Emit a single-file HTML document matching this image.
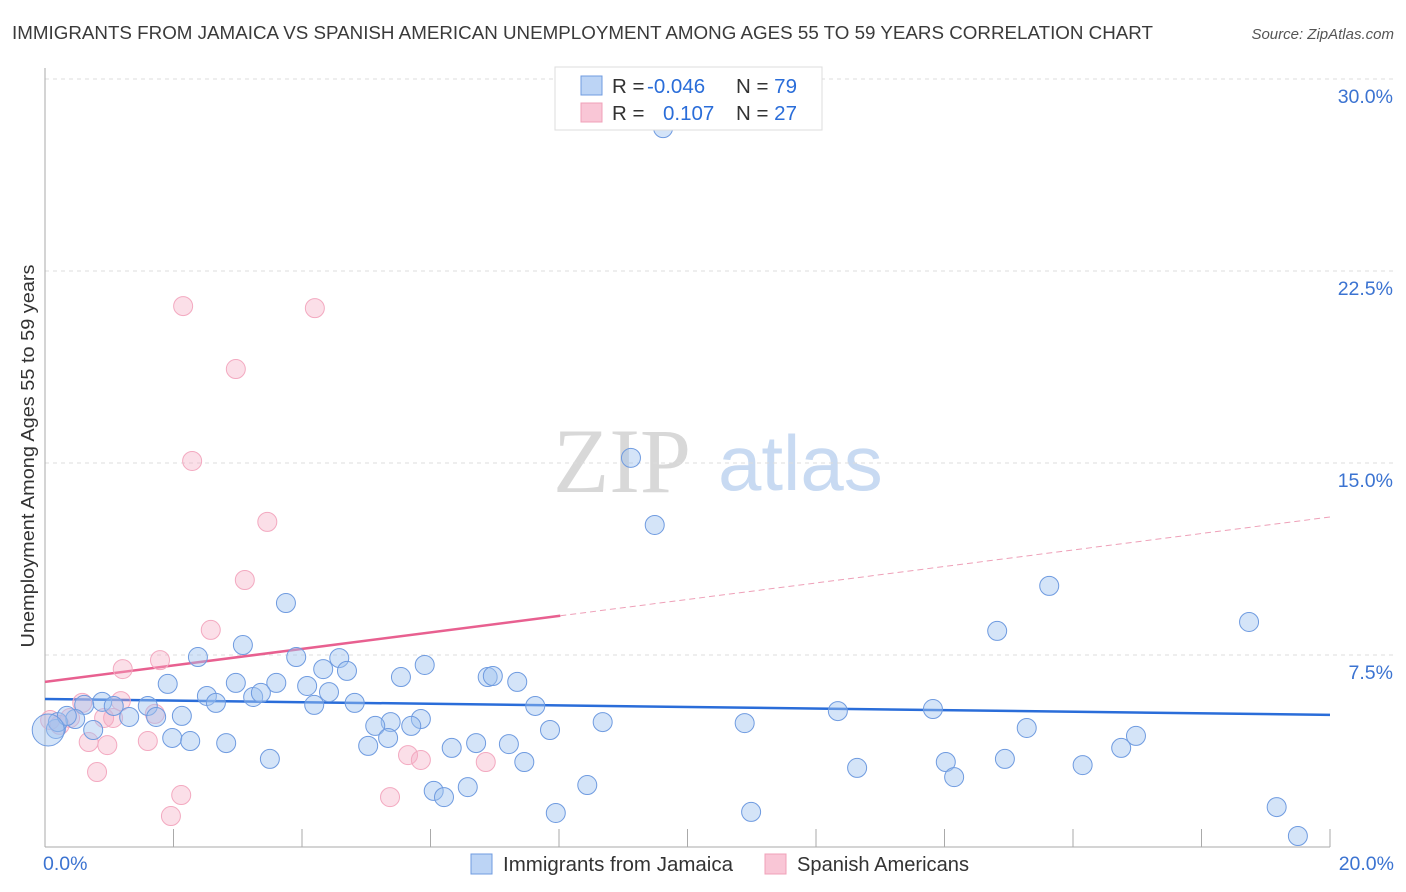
<!DOCTYPE html>
<html><head><meta charset="utf-8">
<style>
body{margin:0;background:#fff;font-family:"Liberation Sans",sans-serif;}
svg{display:block}
</style></head>
<body>
<svg width="1406" height="892" viewBox="0 0 1406 892">
<text x="12" y="39" font-size="18" textLength="1141" lengthAdjust="spacingAndGlyphs" fill="#3a3a3a">IMMIGRANTS FROM JAMAICA VS SPANISH AMERICAN UNEMPLOYMENT AMONG AGES 55 TO 59 YEARS CORRELATION CHART</text>
<text x="1394" y="39" font-size="15" fill="#555" text-anchor="end" font-style="italic">Source: ZipAtlas.com</text>
<g>
<text x="553" y="492" font-size="92" font-family="Liberation Serif,serif" fill="#d8d8d8">ZIP</text>
<text x="718" y="490" font-size="78" fill="#c8daf2">atlas</text>
</g>
<g id="grid"></g>
<g id="axes"></g>
<g id="trends"></g>
<g id="pts"></g>
<text x="34" y="456" font-size="18.5" textLength="383" lengthAdjust="spacingAndGlyphs" fill="#333" text-anchor="middle" transform="rotate(-90 34 456)">Unemployment Among Ages 55 to 59 years</text>
<g>
<rect x="555" y="67" width="267" height="63" fill="#fff" stroke="#ddd"/>
<rect x="581" y="76" width="21" height="19" fill="#bcd4f5" stroke="#6f9be0"/>
<rect x="581" y="103" width="21" height="19" fill="#f9c6d6" stroke="#f0a0b8"/>
<text x="612" y="93" font-size="20.5" fill="#333">R = <tspan fill="#2a6dd9" x="647">-0.046</tspan></text>
<text x="736" y="93" font-size="20.5" fill="#333">N = <tspan fill="#2a6dd9">79</tspan></text>
<text x="612" y="120" font-size="20.5" fill="#333">R = <tspan fill="#2a6dd9" x="663">0.107</tspan></text>
<text x="736" y="120" font-size="20.5" fill="#333">N = <tspan fill="#2a6dd9">27</tspan></text>
</g>
<g>
<rect x="471" y="854" width="21" height="20" fill="#bcd4f5" stroke="#6f9be0"/>
<text x="503" y="871" font-size="20" textLength="230" lengthAdjust="spacingAndGlyphs" fill="#333">Immigrants from Jamaica</text>
<rect x="765" y="854" width="21" height="20" fill="#f9c6d6" stroke="#f0a0b8"/>
<text x="797" y="871" font-size="20" textLength="172" lengthAdjust="spacingAndGlyphs" fill="#333">Spanish Americans</text>
</g>
</svg>
<script>
const yTicks=[7.5,15,22.5,30];
const yTickLabels=["7.5%","15.0%","22.5%","30.0%"];
const xTickLabels=["0.0%","20.0%"];
const blueX=[9.62,9.12,9.49,15.63,14.82,18.74,3.75,3.08,2.38,3.91,4.58,4.33,4.70,5.91,1.91,2.97,3.60,4.08,4.42,5.54,6.89,6.97,7.35,2.52,3.24,3.36,2.66,0.89,1.07,1.60,0.61,4.19,4.82,7.63,2.13,1.31,1.73,0.47,12.34,13.82,8.68,10.89,5.85,5.38,5.14,5.70,7.86,15.28,16.98,16.75,0.75,1.98,2.26,2.82,5.03,5.34,6.33,6.71,7.22,3.50,7.46,14.94,14.02,12.64,16.15,14.15,6.58,8.44,6.05,6.21,7.95,10.99,19.17,19.50,0.17,0.20,0.34,0.05];
const blueY=[28.08,15.20,12.58,10.20,8.44,8.79,9.53,7.89,7.42,7.42,7.38,6.95,6.88,7.11,6.37,6.41,6.41,6.29,6.05,6.64,6.64,6.68,6.45,5.90,5.86,6.02,5.63,5.67,5.51,5.51,5.55,5.55,5.63,5.51,5.12,5.08,5.08,5.00,5.31,5.39,4.88,4.84,5.00,4.88,4.73,4.73,4.57,4.65,4.34,3.87,4.57,4.26,4.14,4.06,3.95,4.26,3.87,4.06,4.02,3.44,3.32,3.44,3.32,3.09,3.20,2.73,2.34,2.42,2.19,1.95,1.33,1.37,1.56,0.43,4.61,4.88,5.12,4.57];
const pinkX=[2.15,4.20,2.97,2.29,3.46,3.11,2.58,1.79,1.21,0.58,1.18,1.71,1.06,0.92,0.68,0.97,1.60,0.81,2.12,1.96,5.65,5.85,6.86,5.37,0.08,0.23,0.39];
const pinkY=[21.13,21.05,18.67,15.08,12.70,10.43,8.48,7.30,6.95,5.63,5.70,5.20,5.04,5.04,4.10,3.98,4.14,2.93,2.03,1.21,3.59,3.40,3.32,1.95,4.96,4.77,5.04];
const blueTrend=[5.78,5.16];
const pinkTrend=[6.45,12.89];
const pinkSolidEnd=8.02;

const X0=45,X1=1330,Y0=847,PX=192/7.5;
const sx=v=>X0+(X1-X0)*v/20, sy=v=>Y0-v*PX;
const NS="http://www.w3.org/2000/svg";
function mk(tag,attrs,parent){const e=document.createElementNS(NS,tag);for(const k in attrs)e.setAttribute(k,attrs[k]);parent.appendChild(e);return e;}
const grid=document.getElementById('grid'),axes=document.getElementById('axes');
yTicks.forEach((t,i)=>{
 const l=mk('line',{x1:X0,x2:1393,y1:sy(t),y2:sy(t),stroke:'#dcdcdc','stroke-dasharray':'4 4'},grid);
 
 
 const tx=mk('text',{x:1393,y:sy(t)+24,'font-size':19.5,fill:'#3b73d1','text-anchor':'end'},axes);
 tx.textContent=yTickLabels[i];
 
 
});
let a=mk('line',{x1:X0,x2:X0,y1:68,y2:Y0,stroke:'#aaa'},axes);


a=mk('line',{x1:X0,x2:X1,y1:Y0,y2:Y0,stroke:'#aaa'},axes);


for(let i=1;i<=10;i++){const t=mk('line',{x1:sx(i*2),x2:sx(i*2),y1:Y0-18,y2:Y0,stroke:'#aaa'},axes);
 
 }
[[0,'start',X0-2],[20,'end',1394]].forEach((d,i)=>{const t=mk('text',{x:d[2],y:870,'font-size':19.5,fill:'#3b73d1','text-anchor':d[1]},axes);t.textContent=xTickLabels[i];
 
 });
const pts=document.getElementById('pts');
pinkX.forEach((x,i)=>{const c=mk('circle',{cx:sx(x),cy:sy(pinkY[i]),r:9.5,fill:'rgba(245,170,195,0.38)',stroke:'#f3a9c0','stroke-width':1},pts);
 
 });
blueX.forEach((x,i)=>{const c=mk('circle',{cx:sx(x),cy:sy(blueY[i]),r:i==blueX.length-1?16:9.5,fill:'rgba(160,195,240,0.45)',stroke:'#6f9be0','stroke-width':1},pts);
 
 });
const tr=document.getElementById('trends');
let l=mk('line',{x1:sx(0),y1:sy(blueTrend[0]),x2:sx(20),y2:sy(blueTrend[1]),stroke:'#2a6dd9','stroke-width':2.5},tr);


const pm=pinkTrend[0]+(pinkTrend[1]-pinkTrend[0])*pinkSolidEnd/20;
l=mk('line',{x1:sx(0),y1:sy(pinkTrend[0]),x2:sx(pinkSolidEnd),y2:sy(pm),stroke:'#e86090','stroke-width':2.5},tr);


l=mk('line',{x1:sx(pinkSolidEnd),y1:sy(pm),x2:sx(20),y2:sy(pinkTrend[1]),stroke:'#eea0b8','stroke-width':1,'stroke-dasharray':'6 4'},tr);


</script>
</body></html>
